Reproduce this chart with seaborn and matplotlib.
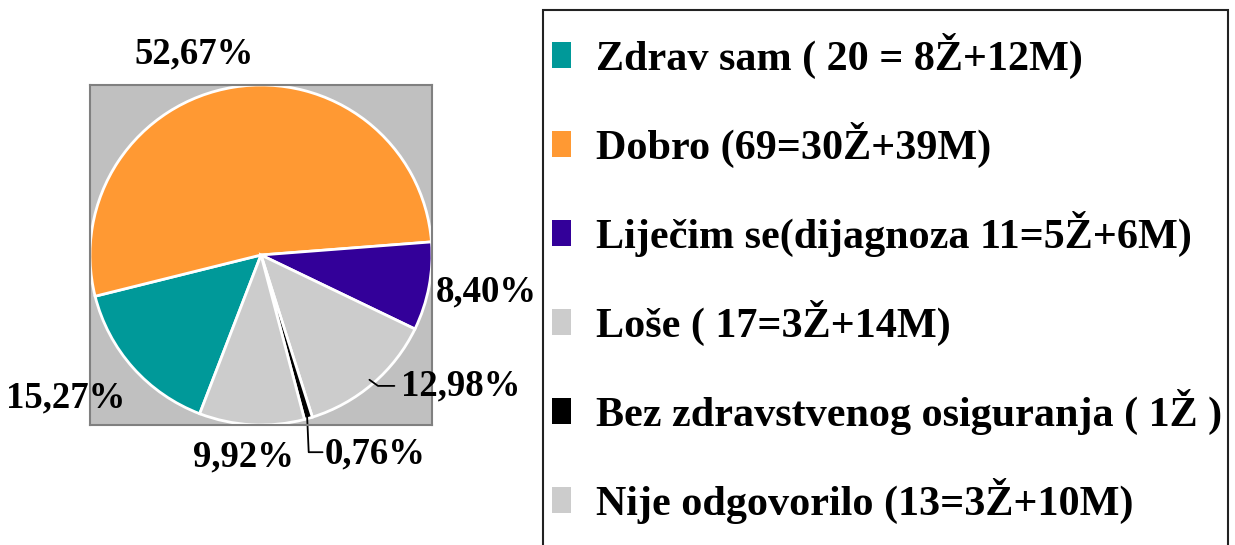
import matplotlib.pyplot as plt
import matplotlib.patches as mpatches
import numpy as np
import seaborn as sns

# podaci (broj ispitanika po odgovoru)
categories = [
    "Zdrav sam ( 20 = 8Ž+12M)",
    "Dobro (69=30Ž+39M)",
    "Liječim se(dijagnoza 11=5Ž+6M)",
    "Loše ( 17=3Ž+14M)",
    "Bez zdravstvenog osiguranja ( 1Ž )",
    "Nije odgovorilo (13=3Ž+10M)",
]
counts = [20, 69, 11, 17, 1, 13]
pct_labels = ["15,27%", "52,67%", "8,40%", "12,98%", "0,76%", "9,92%"]
colors = ["#009999", "#FF9933", "#330099", "#CCCCCC", "#000000", "#CCCCCC"]

sns.set_style("white")
plt.rcParams["font.family"] = ["Liberation Serif", "DejaVu Serif"]
plt.rcParams["font.weight"] = "bold"
plt.rcParams["text.color"] = "black"

fig = plt.figure(figsize=(12.35, 5.45), dpi=100)
ax = fig.add_axes([90 / 1235, 120 / 545, 342 / 1235, 340 / 545])

wedges, _ = ax.pie(counts, colors=colors, startangle=249, counterclock=False,
                   radius=1.0, wedgeprops=dict(edgecolor="white", linewidth=2))
ax.set_frame_on(True)
ax.set_facecolor("#C0C0C0")
ax.set_xlim(-1.0, 1.0)
ax.set_ylim(-1.0, 1.0)
ax.set_aspect("auto")
ax.set_xticks([])
ax.set_yticks([])
for s in ax.spines.values():
    s.set_visible(True)
    s.set_color("#808080")
    s.set_linewidth(1.5)

# polozaji oznaka postotaka (kao u izvorniku)
label_pos = [(-1.14, -0.84), (-0.39, 1.18), (1.32, -0.22),
             (1.17, -0.77), (0.67, -1.17), (-0.10, -1.19)]
for txt, (x, y) in zip(pct_labels, label_pos):
    ax.text(x, y, txt, ha="center", va="center", fontsize=26.5,
            fontweight="bold", color="black", clip_on=False)

# linije vodilice
for w, (tx, ty), dx in [(wedges[3], (0.78, -0.77), 0.05), (wedges[4], (0.36, -1.16), 0.01)]:
    mid = np.deg2rad((w.theta1 + w.theta2) / 2)
    x0, y0 = 0.97 * np.cos(mid), 0.97 * np.sin(mid)
    ax.plot([x0, x0 + dx, tx], [y0, ty, ty], color="black", lw=1.3, clip_on=False)

# legenda
frame = mpatches.Rectangle((543 / 1235, -0.05), (1228 - 543) / 1235, 0.05 + 1 - 10 / 545,
                           transform=fig.transFigure, fill=False, edgecolor="#222222",
                           linewidth=1.5, clip_on=False)
fig.patches.append(frame)
handles = [mpatches.Patch(facecolor=c, edgecolor="none") for c in colors]
fig.legend(handles, categories, loc="upper left",
           bbox_to_anchor=(552 / 1235, 1 - 33 / 545), frameon=False,
           prop=dict(family="Liberation Serif", weight="bold", size=30.3),
           handlelength=0.45, handleheight=0.55, handletextpad=0.6,
           labelspacing=1.02, borderpad=0, borderaxespad=0)

plt.savefig("out.png", dpi=100)
